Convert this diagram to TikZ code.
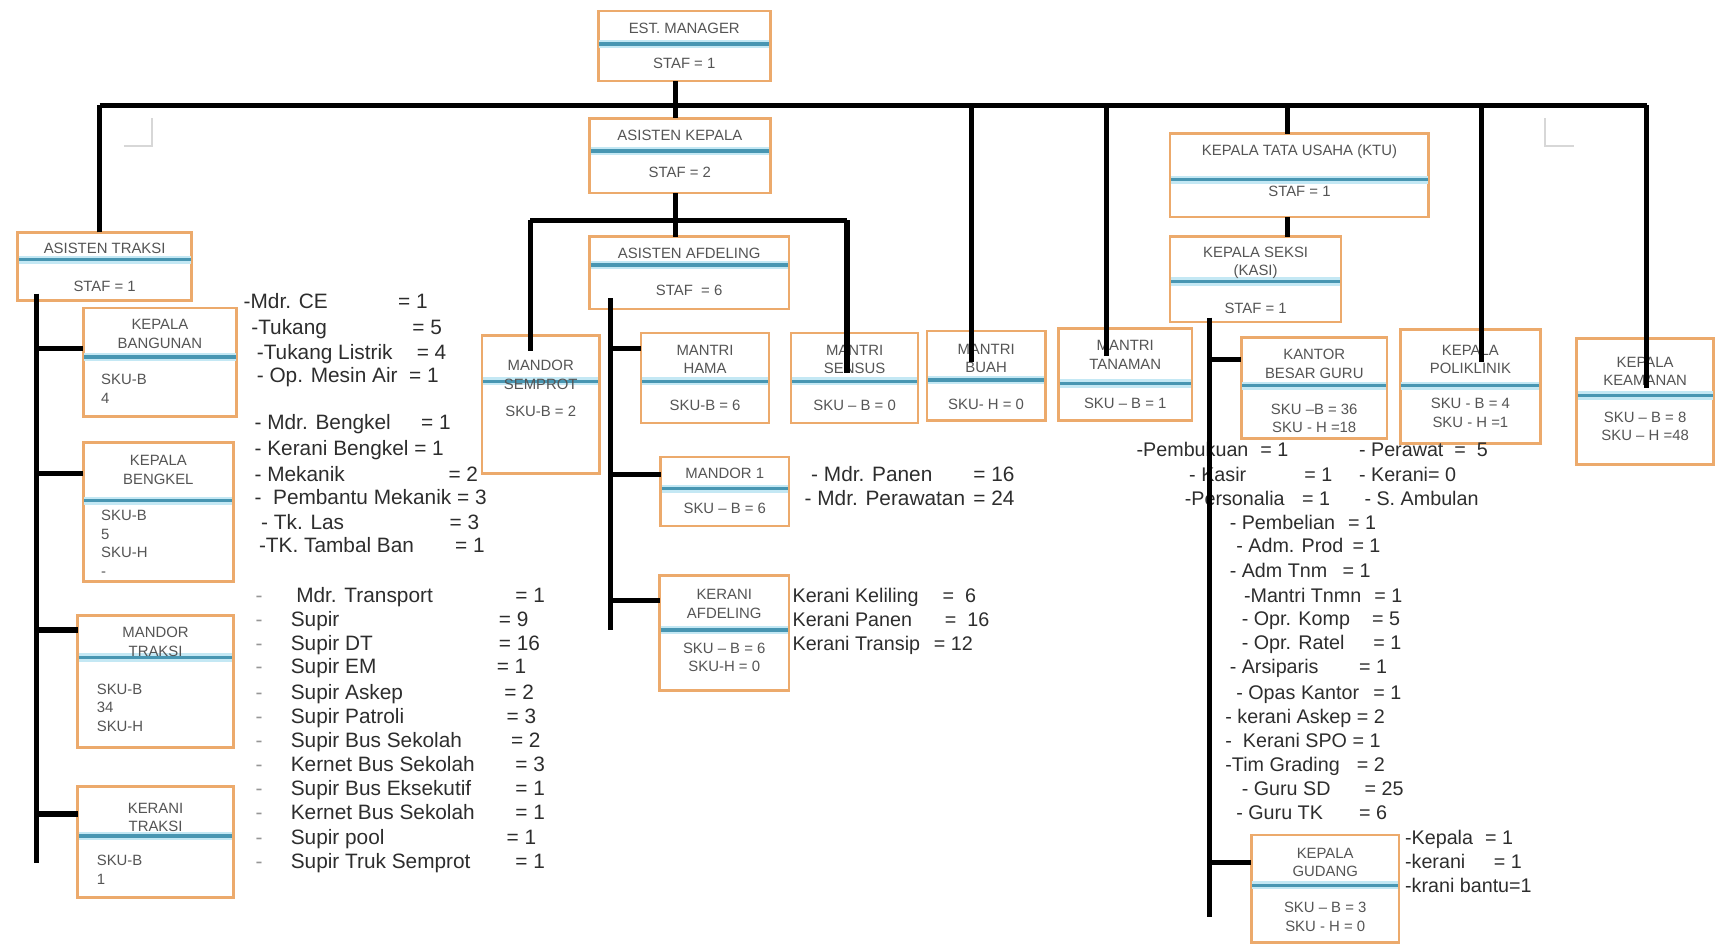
\documentclass[tikz,border=0pt]{standalone}
\usepackage{fontspec}
\setmainfont{Liberation Sans}
\usetikzlibrary{fit,calc}
\definecolor{obord}{RGB}{236,170,108}
\definecolor{bluec}{RGB}{72,150,178}
\definecolor{blueg}{RGB}{196,232,244}
\definecolor{boxtxt}{RGB}{85,85,85}
\definecolor{lsttxt}{RGB}{45,45,45}
\definecolor{dashc}{RGB}{150,150,150}
\definecolor{markc}{RGB}{215,215,215}
\tikzset{
  obox/.style={draw=obord, line width=1.2pt, fill=white, inner sep=0pt, outer sep=0pt},
  bl/.style={line width=1.6pt, draw=bluec},
  blg/.style={line width=3.8pt, draw=blueg},
  ttl/.style={font=\fontsize{6.8}{8.5}\selectfont, text=boxtxt, align=center, inner sep=0pt},
  ltl/.style={ttl, align=left, anchor=west},
  lst/.style={font=\fontsize{9.5}{11}\selectfont, text=lsttxt, anchor=base west, inner sep=0pt},
  lsts/.style={lst, font=\fontsize{9}{11}\selectfont},
  conn/.style={line width=2.4pt, draw=black},
  cmark/.style={line width=1pt, draw=markc},
}
\newcommand\OBox[6]{%
  \coordinate (#1nw) at (#2,#3);
  \coordinate (#1se) at (#4,#5);
  \node[obox, fit=(#1nw)(#1se)] (#1) {};
  \draw[blg] (#2+1,#6) -- (#4-1,#6);
  \draw[bl] (#2+1,#6) -- (#4-1,#6);
}
\newcommand\BTxt[4]{\node[ttl] (#1) at (#2,#3) {#4};}
\newcommand\LTxt[4]{\node[ltl] (#1) at (#2,#3) {#4};}
\newcount\itemcnt
\newcommand\lststyle{lst}
\newcommand\LItem[3]{\global\advance\itemcnt by 1\relax
  \edef\itname{it\the\itemcnt}%
  \node[\lststyle] (\itname) at (#1,#2+6) {#3};}
\newcommand\PItem[5]{\LItem{#2}{#1}{#3}\LItem{#4}{#1}{#5}}
\newcommand\TItem[5]{\LItem{233}{#1}{\color{dashc}-}\LItem{#2}{#1}{#3}\LItem{#4}{#1}{#5}}
\newcommand\Drop[4]{\draw[conn] ($(#1.north)+(#2,#3)$) coordinate (#1-in) -- (#1-in |- #4);}

\begin{document}
\begin{tikzpicture}[x=0.5pt,y=-0.5pt]
\useasboundingbox (0,0) rectangle (1568,862);

% crop marks
\draw[cmark] (113,133) -- (139,133) -- (139,108);
\draw[cmark] (1410,108) -- (1410,133) -- (1437,133);

% ---------- boxes ----------
\OBox{em}{546}{10}{703}{74}{40}
\BTxt{em-t}{624.5}{26}{EST. MANAGER}
\BTxt{em-b}{624.5}{58}{STAF = 1}

\OBox{ak}{538}{108}{703}{176}{138}
\BTxt{ak-t}{620.5}{124}{ASISTEN KEPALA}
\BTxt{ak-b}{620.5}{157}{STAF = 2}

\OBox{aa}{538}{216}{720}{282}{242}
\BTxt{aa-t}{629}{231}{ASISTEN AFDELING}
\BTxt{aa-b}{629}{265}{STAF \ = 6}

\OBox{astr}{16}{212}{175}{274}{237}
\BTxt{astr-t}{95.5}{227}{ASISTEN TRAKSI}
\BTxt{astr-b}{95.5}{261}{STAF = 1}

\OBox{ktu}{1068}{122}{1304}{198}{164}
\BTxt{ktu-t}{1186}{138}{KEPALA TATA USAHA (KTU)}
\BTxt{ktu-b}{1186}{175}{STAF = 1}

\OBox{kasi}{1068}{216}{1224}{294}{257}
\BTxt{kasi-t}{1146}{240}{KEPALA SEKSI\\(KASI)}
\BTxt{kasi-b}{1146}{281}{STAF = 1}

\OBox{msem}{440}{306}{547}{432}{348}
\BTxt{msem-t}{493.5}{342}{MANDOR\\SEMPROT}
\BTxt{msem-b}{493.5}{375}{SKU-B = 2}

\OBox{mhama}{585}{304}{702}{386}{348}
\BTxt{mhama-t}{643.5}{328}{MANTRI\\HAMA}
\BTxt{mhama-b}{643.5}{370}{SKU-B = 6}

\OBox{msen}{722}{304}{838}{386}{348}
\BTxt{msen-t}{780}{328}{MANTRI\\SENSUS}
\BTxt{msen-b}{780}{370}{SKU -- B = 0}

\OBox{mbuah}{846}{302}{954}{384}{347}
\BTxt{mbuah-t}{900}{327}{MANTRI\\BUAH}
\BTxt{mbuah-b}{900}{369}{SKU- H = 0}

\OBox{mtan}{966}{300}{1088}{384}{350}
\BTxt{mtan-t}{1027}{324}{MANTRI\\TANAMAN}
\BTxt{mtan-b}{1027}{368}{SKU -- B = 1}

\OBox{kbg}{1133}{308}{1266}{400}{352}
\BTxt{kbg-t}{1199.5}{332}{KANTOR\\BESAR GURU}
\BTxt{kbg-b}{1199.5}{382}{SKU --B = 36\\SKU - H =18}

\OBox{kpol}{1278}{301}{1406}{405}{352}
\BTxt{kpol-t}{1342}{328}{KEPALA\\POLIKLINIK}
\BTxt{kpol-b}{1342}{377}{SKU - B = 4\\SKU - H =1}

\OBox{kkeam}{1439}{309}{1564}{424}{361}
\BTxt{kkeam-t}{1501.5}{339}{KEPALA\\KEAMANAN}
\BTxt{kkeam-b}{1501.5}{389}{SKU -- B = 8\\SKU -- H =48}

\OBox{kgud}{1142}{762}{1277}{860}{808}
\BTxt{kgud-t}{1209.5}{787}{KEPALA\\GUDANG}
\BTxt{kgud-b}{1209.5}{837}{SKU -- B = 3\\SKU - H = 0}

\OBox{md1}{603}{417}{720}{480}{446}
\BTxt{md1-t}{661.5}{432}{MANDOR 1}
\BTxt{md1-b}{661.5}{464}{SKU -- B = 6}

\OBox{kaf}{602}{525}{720}{630}{575}
\BTxt{kaf-t}{661}{551}{KERANI\\AFDELING}
\BTxt{kaf-b}{661}{600}{SKU -- B = 6\\SKU-H = 0}

\OBox{kbang}{76}{281}{216}{380}{326}
\BTxt{kbang-t}{146}{305}{KEPALA\\BANGUNAN}
\LTxt{kbang-b}{92}{355}{SKU-B\\4}

\OBox{kbeng}{76}{404}{213}{531}{457}
\BTxt{kbeng-t}{144.5}{429}{KEPALA\\BENGKEL}
\LTxt{kbeng-b}{92}{496}{SKU-B\\5\\SKU-H\\-}

\OBox{mtr}{71}{562}{213}{682}{600}
\BTxt{mtr-t}{142}{586}{MANDOR\\TRAKSI}
\LTxt{mtr-b}{88}{646}{SKU-B\\34\\SKU-H}

\OBox{ktr}{71}{718}{213}{819}{763}
\BTxt{ktr-t}{142}{746}{KERANI\\TRAKSI}
\LTxt{ktr-b}{88}{794}{SKU-B\\1}

% ---------- lists ----------
% Kepala Bangunan
\PItem{276}{222}{-Mdr. CE}{363}{= 1}
\PItem{299}{229}{-Tukang}{376}{= 5}
\PItem{322}{234}{-Tukang Listrik}{380}{= 4}
\PItem{343}{234}{- Op. Mesin Air}{373}{= 1}
% Kepala Bengkel
\PItem{386}{232}{- Mdr. Bengkel}{384}{= 1}
\LItem{232}{410}{- Kerani Bengkel = 1}
\PItem{433}{232}{- Mekanik}{409}{= 2}
\LItem{232}{454}{-\ \ Pembantu Mekanik = 3}
\PItem{477}{238}{- Tk. Las}{410}{= 3}
\PItem{498}{236}{-TK. Tambal Ban}{415}{= 1}
% Mandor Traksi
\TItem{544}{270}{Mdr. Transport}{470}{= 1}
\TItem{566}{265}{Supir}{455}{= 9}
\TItem{588}{265}{Supir DT}{455}{= 16}
\TItem{609}{265}{Supir EM}{453}{= 1}
\TItem{632}{265}{Supir Askep}{460}{= 2}
\TItem{654}{265}{Supir Patroli}{462}{= 3}
\TItem{676}{265}{Supir Bus Sekolah}{466}{= 2}
\TItem{698}{265}{Kernet Bus Sekolah}{470}{= 3}
\TItem{720}{265}{Supir Bus Eksekutif}{470}{= 1}
\TItem{742}{265}{Kernet Bus Sekolah}{470}{= 1}
\TItem{765}{265}{Supir pool}{462}{= 1}
\TItem{787}{265}{Supir Truk Semprot}{470}{= 1}
% Mandor 1
\PItem{433}{740}{- Mdr. Panen}{888}{= 16}
\PItem{455}{734}{- Mdr. Perawatan}{888}{= 24}
\renewcommand\lststyle{lsts}
% Kerani Afdeling
\PItem{544}{723}{Kerani Keliling}{860}{= \ 6}
\PItem{566}{723}{Kerani Panen}{862}{= \ 16}
\PItem{588}{723}{Kerani Transip}{852}{= 12}
% KTU
\PItem{411}{1037}{-Pembukuan}{1150}{= 1}
\LItem{1240}{411}{- Perawat \ = \ 5}
\PItem{433}{1085}{- Kasir}{1190}{= 1}
\LItem{1240}{433}{- Kerani= 0}
\PItem{455}{1081}{-Personalia}{1188}{= 1}
\LItem{1245}{455}{- S. Ambulan}
\PItem{477}{1122}{- Pembelian}{1230}{= 1}
\PItem{498}{1128}{- Adm. Prod}{1234}{= 1}
\PItem{521}{1122}{- Adm Tnm}{1225}{= 1}
\PItem{544}{1135}{-Mantri Tnmn}{1254}{= 1}
\PItem{565}{1133}{- Opr. Komp}{1252}{= 5}
\PItem{587}{1133}{- Opr. Ratel}{1253}{= 1}
\PItem{609}{1122}{- Arsiparis}{1240}{= 1}
\PItem{632}{1128}{- Opas Kantor}{1253}{= 1}
\LItem{1118}{654}{- kerani Askep = 2}
\LItem{1118}{676}{-\ \ Kerani SPO = 1}
\PItem{698}{1118}{-Tim Grading}{1238}{= 2}
\PItem{720}{1133}{- Guru SD}{1245}{= 25}
\PItem{742}{1128}{- Guru TK}{1240}{= 6}
% Kepala Gudang
\PItem{765}{1282}{-Kepala}{1355}{= 1}
\PItem{787}{1282}{-kerani}{1363}{= 1}
\LItem{1282}{809}{-krani bantu=1}

% ---------- connectors ----------
\coordinate (bus) at (0,96);
\coordinate (bus2) at (0,201);
% main bus drops
\Drop{astr}{-4.5}{0}{bus}
\Drop{mbuah}{-13}{28}{bus}
\Drop{mtan}{-17}{25}{bus}
\Drop{ktu}{-11}{0}{bus}
\Drop{kpol}{10}{29}{bus}
\Drop{kkeam}{1.5}{45}{bus}
\draw[conn] (astr-in |- bus) -- (kkeam-in |- bus);
% manager -> asisten kepala -> asisten afdeling
\draw[conn] ($(em.south)+(-8,0)$) coordinate (emdrop) -- (emdrop |- ak.north);
\draw[conn] ($(ak.south)+(-4,0)$) coordinate (akdrop) -- (akdrop |- aa.north);
% secondary bus
\Drop{msem}{-9.5}{14}{bus2}
\Drop{msen}{-7}{36}{bus2}
\draw[conn] (msem-in |- bus2) -- (msen-in |- bus2);
% KTU -> KASI
\draw[conn] ($(ktu.south)+(-11,0)$) coordinate (ktudrop) -- (ktudrop |- kasi.north);

% asisten traksi comb
\coordinate (astrc) at (33,268);
\coordinate (astre) at (33,788);
\draw[conn] (astrc) -- (astre);
\coordinate (ya1) at (0,318);
\coordinate (ya2) at (0,432);
\coordinate (ya3) at (0,575);
\coordinate (ya4) at (0,743);
\draw[conn] (astrc |- ya1) -- (kbang.west |- ya1);
\draw[conn] (astrc |- ya2) -- (kbeng.west |- ya2);
\draw[conn] (astrc |- ya3) -- (mtr.west |- ya3);
\draw[conn] (astrc |- ya4) -- (ktr.west |- ya4);

% asisten afdeling comb
\coordinate (aac) at (557,272);
\coordinate (aae) at (557,575);
\draw[conn] (aac) -- (aae);
\coordinate (yb1) at (0,318);
\coordinate (yb2) at (0,433);
\coordinate (yb3) at (0,548);
\draw[conn] (aac |- yb1) -- (mhama.west |- yb1);
\draw[conn] (aac |- yb2) -- (md1.west |- yb2);
\draw[conn] (aac |- yb3) -- (kaf.west |- yb3);

% kasi comb
\coordinate (kasic) at (1104,290);
\coordinate (kasie) at (1104,837);
\draw[conn] (kasic) -- (kasie);
\coordinate (yc1) at (0,328);
\coordinate (yc2) at (0,787);
\draw[conn] (kasic |- yc1) -- (kbg.west |- yc1);
\draw[conn] (kasic |- yc2) -- (kgud.west |- yc2);
\end{tikzpicture}
\end{document}
